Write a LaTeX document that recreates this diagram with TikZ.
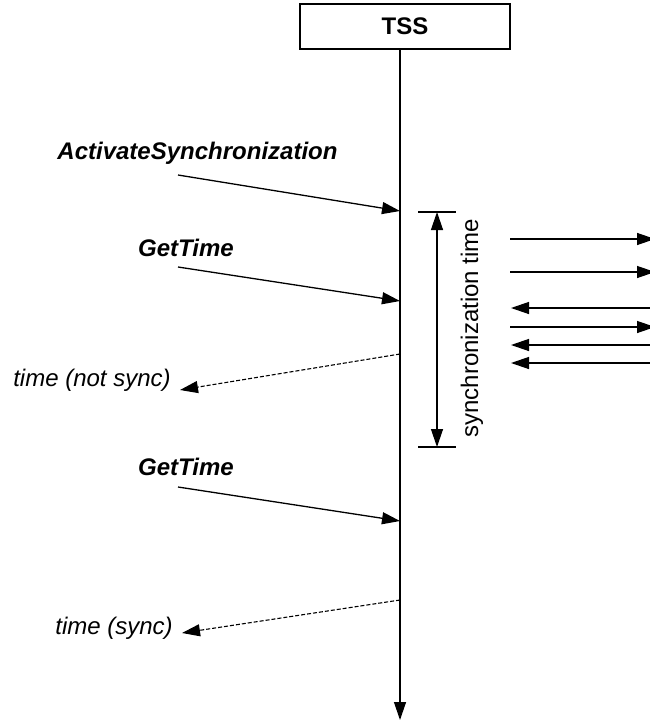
\documentclass[tikz,border=0pt]{standalone}
\usepackage{fontspec}
\setmainfont{Liberation Sans}
\usetikzlibrary{arrows.meta}
\begin{document}
\begin{tikzpicture}[x=1pt,y=-1pt,
  every node/.style={font=\fontsize{24}{28}\selectfont},
  lbl/.style={font=\fontsize{24}{28}\selectfont\itshape},
  msglbl/.style={font=\fontsize{24}{28}\selectfont\bfseries\itshape},
  head/.tip={Triangle[length=18pt,width=12pt]},
  tip/.style={-head},
  msg/.style={tip, line width=1.3pt},
  reply/.style={tip, line width=1.1pt, dash pattern=on 4pt off 2pt},
  link/.style={tip, line width=1.3pt}]
\useasboundingbox (0,0) rectangle (649,725);

% object box and its lifeline
\node[draw, line width=1.3pt, minimum width=210pt, minimum height=45pt,
      inner sep=0pt, font=\fontsize{24}{28}\selectfont\bfseries]
      (tss) at (405,26.5) {TSS};
\coordinate (lifetop) at (400,49);
\coordinate (lifeend) at (400,720);
\draw[link] (lifetop) -- (lifeend);

% points on the lifeline
\coordinate (act) at (400,211);
\coordinate (get1) at (400,301);
\coordinate (ans1) at (400,354);
\coordinate (get2) at (400,521);
\coordinate (ans2) at (400,600);

% ActivateSynchronization
\node[msglbl] (actlbl) at (197.5,153) {ActivateSynchronization};
\coordinate (actsrc) at (178,175);
\draw[msg] (actsrc) -- (act);

% first GetTime
\node[msglbl] (get1lbl) at (186,248) {GetTime};
\coordinate (get1src) at (178,267);
\draw[msg] (get1src) -- (get1);

% unsynchronised reply
\node[lbl] (ans1lbl) at (92,380) {time (not sync)};
\coordinate (ans1dst) at (180,390);
\draw[reply] (ans1) -- (ans1dst);

% second GetTime
\node[msglbl] (get2lbl) at (186,467) {GetTime};
\coordinate (get2src) at (178,487);
\draw[msg] (get2src) -- (get2);

% synchronised reply
\node[lbl] (ans2lbl) at (114,628) {time (sync)};
\coordinate (ans2dst) at (182,633);
\draw[reply] (ans2) -- (ans2dst);

% synchronization time span
\coordinate (spantop) at (437,212);
\coordinate (spanbot) at (437,447);
\coordinate (ticktl) at (418,212);
\coordinate (ticktr) at (456,212);
\coordinate (tickbl) at (418,447);
\coordinate (tickbr) at (456,447);
\draw[line width=1.3pt] (ticktl) -- (ticktr);
\draw[line width=1.3pt] (tickbl) -- (tickbr);
\draw[line width=1.3pt, head-head] (spantop) -- (spanbot);
\node[rotate=90] (spanlbl) at (472,328) {synchronization time};

% synchronisation exchange
\foreach \y/\n in {239/o1, 272/o2, 327/o3} {
  \coordinate (\n a) at (510,\y);
  \coordinate (\n b) at (655,\y);
  \draw[link] (\n a) -- (\n b);
}
\foreach \y/\n in {308/i1, 345/i2, 363/i3} {
  \coordinate (\n a) at (655,\y);
  \coordinate (\n b) at (511,\y);
  \draw[link] (\n a) -- (\n b);
}
\end{tikzpicture}
\end{document}
